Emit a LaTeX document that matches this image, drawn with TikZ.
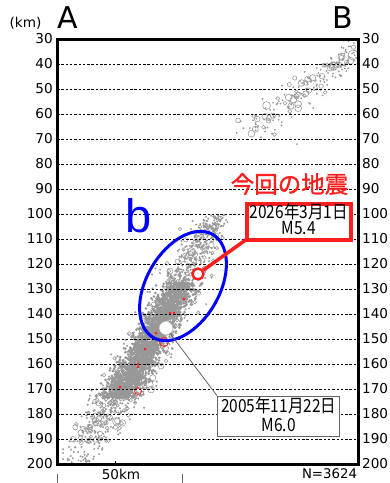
\documentclass[tikz,border=0pt]{standalone}
\usepackage{fontspec}
\setmainfont{DejaVu Sans}
\newfontfamily\jpfont[FakeStretch=0.86]{Noto Sans CJK JP}
\newfontfamily\jpbold[FakeBold=1.3]{Noto Sans CJK JP}
\newfontfamily\arialfont{Liberation Sans}
\usetikzlibrary{shapes.geometric}
\definecolor{ptgray}{RGB}{152,152,152}
\definecolor{ptred}{RGB}{255,30,30}
\definecolor{bblue}{RGB}{0,0,255}
\definecolor{boxgray}{RGB}{100,100,100}
\begin{document}
\begin{tikzpicture}[x=1pt,y=-1pt,
  depthlbl/.style={font=\fontsize{13.6}{15}\selectfont, inner sep=0pt},
  gridline/.style={line width=0.7pt, dash pattern=on 2.5pt off 1.8pt},
  dot/.style={fill=ptgray},
  ring/.style={draw=ptgray, line width=0.55pt},
  reddot/.style={fill=ptred},
  jptext/.style={font=\jpfont\fontsize{18}{16.5}\selectfont, align=center, inner sep=0pt}
]
\useasboundingbox (0,0) rectangle (390,483);
\fill[white] (0,0) rectangle (390,483);

% ---------- scatter cloud ----------
\begin{scope}
\clip (57,39) rectangle (358,464);
\pgfmathsetseed{2026}
% dense core
\foreach \i in {1,...,2300}{
  \pgfmathsetmacro{\yy}{283+115*rnd}
  \pgfmathsetmacro{\xx}{80+0.558*(458-\yy)+5*sin(0.7725*(458-\yy))+9*(rand+rand+rand)}
  \fill[dot] (\xx,\yy) circle (1.45pt);
}
% halo
\foreach \i in {1,...,350}{
  \pgfmathsetmacro{\yy}{268+145*rnd}
  \pgfmathsetmacro{\xx}{80+0.558*(458-\yy)+5*sin(0.7725*(458-\yy))+14*(rand+rand+rand)}
  \fill[dot] (\xx,\yy) circle (1.1pt);
}
% upper part inside ellipse
\foreach \i in {1,...,280}{
  \pgfmathsetmacro{\yy}{215+70*rnd}
  \pgfmathsetmacro{\xx}{80+0.558*(458-\yy)+5*sin(0.7725*(458-\yy))+8*(rand+rand+rand)}
  \fill[dot] (\xx,\yy) circle (1.1pt);
}
% bottom tail
\foreach \i in {1,...,170}{
  \pgfmathsetmacro{\yy}{395+68*rnd}
  \pgfmathsetmacro{\xx}{80+0.558*(458-\yy)+12*(rand+rand+rand)}
  \fill[dot] (\xx,\yy) circle (1.1pt);
}
% open circles in the band
\foreach \i in {1,...,240}{
  \pgfmathsetmacro{\yy}{225+220*rnd}
  \pgfmathsetmacro{\xx}{80+0.558*(458-\yy)+5*sin(0.7725*(458-\yy))+12*(rand+rand+rand)}
  \pgfmathsetmacro{\rr}{1.6+2.6*rnd*rnd}
  \draw[ring] (\xx,\yy) circle (\rr pt);
}
% upper cluster
\foreach \i in {1,...,160}{
  \pgfmathsetmacro{\tp}{rnd^0.7}
  \pgfmathsetmacro{\oo}{8*(rand+rand+rand)}
  \pgfmathsetmacro{\xx}{240+118*\tp+0.615*\oo}
  \pgfmathsetmacro{\yy}{140-92*\tp+0.789*\oo}
  \fill[dot] (\xx,\yy) circle (1.0pt);
}
\foreach \i in {1,...,50}{
  \pgfmathsetmacro{\tp}{rnd^0.7}
  \pgfmathsetmacro{\oo}{7*(rand+rand+rand)}
  \pgfmathsetmacro{\xx}{240+118*\tp+0.615*\oo}
  \pgfmathsetmacro{\yy}{140-92*\tp+0.789*\oo}
  \pgfmathsetmacro{\rr}{1.8+2.5*rnd*rnd}
  \draw[ring] (\xx,\yy) circle (\rr pt);
}
\fill[dot] (297,144) circle (1pt);
\draw[ring] (353,55) circle (5pt);
% red small events
\foreach \p in {(184,299),(170,313),(174,313),(156,333),(145,349),(138,364),(138,367),(120,387)}
  \fill[reddot] \p circle (1.5pt);
\draw[ptred, line width=0.8pt] (164,342) circle (4.5pt);
\draw[ptred, line width=0.8pt] (138,391) circle (3.5pt);
\end{scope}

% ---------- grid ----------
\foreach \d in {40,50,...,190}{
  \draw[gridline] (57,{39+2.5*(\d-30)}) -- (358,{39+2.5*(\d-30)});
}
% frame
\draw[line width=3pt] (57,39) rectangle (358,464);
% depth labels
\foreach \d in {30,40,...,200}{
  \node[depthlbl, anchor=east] at (53,{39+2.5*(\d-30)}) {\d};
  \node[depthlbl, anchor=west] at (362,{39+2.5*(\d-30)}) {\d};
}
\node[font=\fontsize{13.6}{15}\selectfont, inner sep=0pt] (km) at (25.5,23) {(km)};
\node[font=\fontsize{30}{32}\selectfont, inner sep=0pt] (lA) at (67.5,18) {A};
\node[font=\fontsize{30}{32}\selectfont, inner sep=0pt] (lB) at (343,18) {B};

% scale bar
\draw[line width=1pt] (115,461) -- (115,464);
\draw[line width=0.8pt, boxgray] (57,474) -- (57,483);
\draw[line width=0.8pt, boxgray] (182,474) -- (182,483);
\node[font=\fontsize{13.6}{15}\selectfont, inner sep=0pt] (scl) at (121,474) {50km};
\node[font=\fontsize{13.3}{15}\selectfont, inner sep=0pt] (nn) at (329.5,473.5) {N=3624};

% ---------- blue ellipse ----------
\node[ellipse, draw=bblue, line width=3pt, minimum width=119pt, minimum height=73pt, inner sep=0pt, rotate=60] (ellb) at (183,286) {};
\node[text=bblue, font=\arialfont\fontsize{47}{50}\selectfont, inner sep=0pt] (lb) at (138.5,216) {b};

% ---------- 2005 event ----------
\node[circle, fill=white, draw=ptgray!40, line width=0.5pt, minimum size=13pt, inner sep=0pt] (q05) at (166,328) {};
\node[draw=boxgray, line width=1pt, fill=white, minimum width=122.5pt, minimum height=40.5pt, inner sep=0pt] (box05) at (278.7,416.4) {};
\node[jptext, font=\jpfont\fontsize{18}{19}\selectfont] (t05) at ([yshift=2pt]box05.center) {2005年11月22日\\M6.0};
\draw[boxgray, line width=0.8pt] (q05) -- (box05.north west);

% ---------- 2026 event ----------
\node[text=ptred, font=\jpbold\fontsize{23.5}{25}\selectfont, inner sep=0pt] (konkai) at (289.5,184) {今回の地震};
\node[circle, fill=white, draw=ptred, line width=2.4pt, minimum size=11pt, inner sep=0pt] (q26) at (198,274) {};
\draw[ptred, line width=3.5pt] (q26) -- (247,239);
\node[draw=ptred, line width=4pt, fill=white, minimum width=103.5pt, minimum height=35.5pt, inner sep=0pt] (box26) at (298.75,221.75) {};
\node[jptext] (t26) at ([yshift=2.5pt]box26.center) {2026年3月1日\\M5.4};
\end{tikzpicture}
\end{document}
